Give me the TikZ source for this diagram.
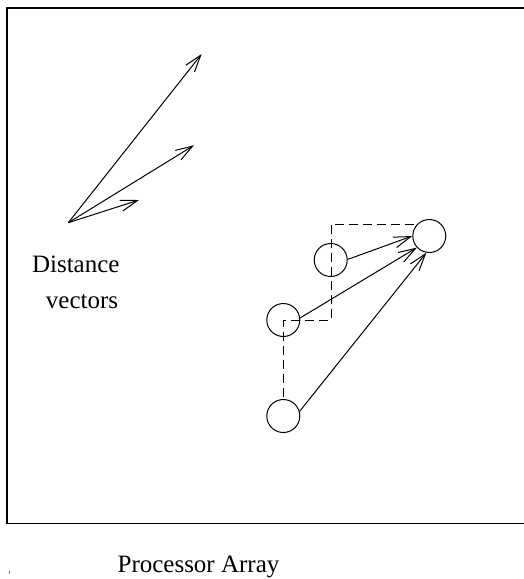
\documentclass[tikz,border=0pt]{standalone}
\usepackage{fontspec}
\setmainfont{Liberation Serif}
\usetikzlibrary{arrows.meta}
\begin{document}
\begin{tikzpicture}[x=0.5pt,y=-0.5pt,
  proc/.style={draw,circle,minimum size=16.5pt,inner sep=0pt,line width=0.5pt},
  vec/.style={line width=0.5pt,-{Straight Barb[length=8.5pt,width=5.5pt]}},
  path/.style={line width=0.5pt,dash pattern=on 4.5pt off 2.5pt},
  lbl/.style={anchor=base,inner sep=0pt,font=\fontsize{12.5}{15}\selectfont}]
\useasboundingbox (0,0) rectangle (524,579);
\draw[line width=0.7pt] (7,8) rectangle (532,523.5);
\fill[gray] (8.8,570.5) rectangle (10.2,573.5);
% distance vectors
\coordinate (o) at (68.3,222.7);
\coordinate (v1) at (201.7,54);
\coordinate (v2) at (194,145.3);
\coordinate (v3) at (139,200);
\draw[vec] (o) -- (v1);
\draw[vec] (o) -- (v2);
\draw[vec] (o) -- (v3);
\node[lbl] (t1) at (75.8,272) {Distance};
\node[lbl] (t2) at (82,308) {vectors};
% processors
\node[proc] (A) at (429.3,236) {};
\node[proc] (B) at (330.7,260) {};
\node[proc] (C) at (283.3,320) {};
\node[proc] (D) at (283.3,416) {};
\coordinate (p0) at (283.3,396.5);
\coordinate (p1) at (283.3,320);
\coordinate (p2) at (331,320);
\coordinate (p3) at (331,224);
\coordinate (p4) at (415,224);
\draw[path] (p0) -- (p1) -- (p2) -- (p3) -- (p4);
\draw[vec] (B.2) -- (A.180);
\draw[vec] (C.7) -- (A.223);
\draw[vec] (D.16) -- (A.260);
\node[lbl] (pa) at (198.5,572) {Processor Array};
\end{tikzpicture}
\end{document}
